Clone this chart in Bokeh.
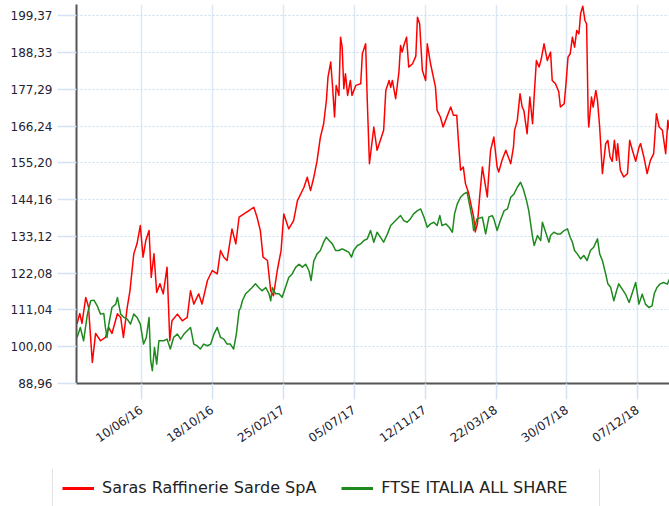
import pandas as pd
from bokeh.plotting import figure
from bokeh.layouts import column
from bokeh.models import (Range1d, FixedTicker, DatetimeTickFormatter, CustomJSTickFormatter,
                          Legend, LegendItem)
from bokeh.core.properties import value
from bokeh.embed import file_html
from bokeh.resources import INLINE

# ---------------- data ----------------
start_date = "2016-02-12"
end_date = "2019-02-03"

# days since start_date, and normalised value (base 100)
red_day = [1, 6, 10, 17, 22, 29, 35, 44, 53, 59, 65, 75, 81, 86, 93, 98, 105, 111, 117, 122,
           127, 133, 137, 142, 147, 153, 159, 166, 171, 175, 185, 194, 203, 209, 215, 224, 230,
           240, 249, 258, 264, 270, 276, 285, 292, 298, 307, 316, 325, 331, 337, 342, 350, 356,
           361, 368, 375, 380, 389, 398, 405, 417, 423, 429, 435, 441, 447, 453, 458, 461, 466,
           469, 473, 476, 481, 484, 487, 490, 493, 497, 502, 505, 512, 521, 524, 530, 533, 537,
           545, 551, 557, 563, 567, 573, 576, 579, 585, 591, 594, 597, 600, 605, 609, 616, 622,
           625, 629, 634, 640, 643, 649, 658, 661, 667, 672, 680, 686, 691, 697, 700, 704, 709,
           713, 719, 724, 728, 731, 735, 739, 744, 748, 753, 755, 759, 765, 771, 774, 780, 787,
           796, 801, 803, 808, 813, 817, 820, 826, 831, 836, 839, 843, 848, 852, 857, 860, 863,
           869, 872, 878, 884, 887, 894, 897, 901, 905, 909, 913, 917, 921, 924, 928, 932, 935,
           938, 939, 944, 947, 952, 955, 959, 964, 970, 974, 978, 982, 986, 990, 992, 997, 1003,
           1010, 1014, 1019, 1025, 1031, 1034, 1040, 1046, 1052, 1058, 1063, 1068, 1074, 1080,
           1084, 1087]
red_val = [106.9, 110, 107, 114.8, 112, 95.3, 104, 101.8, 102.8, 105.8, 104, 109.9, 108.8, 102.8,
           111.8, 116.8, 127.9, 131, 136.4, 126.9, 131.9, 134.9, 120.8, 127.9, 116.3, 118.9, 115.9,
           123.9, 101.8, 107.8, 109.8, 107.8, 108.8, 116.8, 112.8, 115.9, 112.8, 119.9, 122.9,
           121.9, 128.9, 126.9, 125.9, 135.4, 130.9, 138.9, 139.9, 140.9, 141.9, 138.9, 134.9,
           126.9, 125.9, 116.8, 115.3, 122.9, 128.9, 139.9, 135.4, 137.9, 143.9, 147.9, 150.9,
           146.9, 150.9, 155.9, 162.9, 166.9, 173.9, 181, 185.5, 179, 169, 178.5, 175.5, 193, 190,
           177.5, 182, 175.5, 180, 175.5, 178.5, 179, 188, 191, 173.9, 155, 166, 159, 162, 165,
           177, 180, 177.9, 180, 174.5, 182.5, 190.5, 188.5, 190.5, 193, 184, 185, 187.3, 199,
           197, 183, 180, 191, 185, 178, 171, 169, 166, 169.5, 172, 169.5, 169.5, 162, 153, 154,
           149, 146, 142, 139, 134.5, 137, 145, 154, 150, 145, 150, 159, 163, 154, 152.5, 156,
           159, 155, 160, 165, 168, 176, 172, 171, 164, 175, 167, 175.5, 186, 184, 186.5, 191,
           188.5, 186, 188.5, 180, 179, 176.6, 172, 173, 178.5, 187, 188, 193, 190, 195, 194,
           200, 202.3, 198, 197, 169, 166, 175, 172, 177, 174, 166, 152, 161, 162, 157, 155.7,
           162, 156, 161, 153, 151, 152, 162, 159, 155.7, 159.9, 161, 157, 152, 156, 158, 170,
           166, 165, 158, 168, 165]

green_day = [1, 7, 13, 20, 26, 32, 38, 44, 50, 53, 56, 59, 65, 72, 75, 81, 87, 93, 99, 105, 111,
             117, 123, 128, 133, 136, 139, 143, 147, 151, 160, 166, 172, 178, 185, 191, 197, 203,
             209, 215, 221, 227, 233, 240, 246, 252, 258, 264, 270, 276, 282, 288, 293, 298, 301,
             304, 310, 316, 322, 328, 334, 340, 347, 353, 356, 359, 365, 371, 377, 383, 389, 395,
             402, 408, 414, 420, 426, 430, 435, 441, 447, 453, 458, 463, 469, 475, 481, 487, 493,
             499, 504, 508, 515, 521, 527, 533, 539, 545, 551, 557, 563, 570, 576, 585, 594, 600,
             606, 612, 618, 625, 631, 637, 643, 649, 655, 661, 666, 670, 677, 683, 689, 693, 698,
             704, 710, 716, 719, 725, 728, 734, 744, 750, 756, 762, 765, 771, 777, 784, 790, 796,
             802, 808, 814, 819, 825, 829, 836, 839, 845, 851, 854, 860, 866, 869, 875, 881, 887,
             894, 900, 905, 909, 913, 918, 924, 930, 936, 942, 948, 955, 959, 964, 970, 974, 979,
             985, 990, 994, 1000, 1006, 1013, 1019, 1025, 1031, 1037, 1043, 1049, 1055, 1059,
             1064, 1070, 1076, 1083, 1087]
green_val = [102.8, 105.8, 101.8, 109.8, 113.8, 114, 112.3, 109.8, 110, 105.8, 102.8, 106.5, 111.8,
             112.8, 114.8, 109.8, 108.8, 108.3, 106.8, 109.8, 108.8, 106.8, 100.8, 102.8, 108.8,
             95.8, 92.8, 99.8, 94.8, 101.8, 101.8, 102.3, 99.3, 102.8, 103.8, 102.3, 103.8, 104.8,
             105.8, 100.8, 100.3, 99.3, 100.8, 100.3, 100.8, 103.8, 105.8, 102.8, 102.3, 100.8,
             100.8, 99.3, 103.8, 110.8, 111.8, 113.8, 115.9, 116.8, 117.8, 118.9, 117.8, 116.8,
             117.8, 115.9, 113.8, 117.8, 115.9, 115.9, 114.9, 117.8, 120.8, 121.8, 123.9, 124.8,
             123.9, 124.8, 122.9, 119.9, 125.8, 127.9, 128.9, 131.4, 132.9, 131.9, 130.9, 128.9,
             128.9, 129.4, 128.9, 128.4, 126.9, 128.9, 130.4, 130.9, 131.9, 132.4, 134.9, 131.4,
             134.4, 132.9, 131.4, 133.9, 136.4, 137.9, 139.4, 137.9, 137.4, 138.4, 139.9, 140.9,
             141.4, 138.9, 135.9, 136.9, 137.4, 136.4, 139.4, 136.4, 136.9, 135.9, 134.4, 139.9,
             142.9, 144.9, 145.9, 146.4, 143.9, 138.9, 134.9, 138.4, 138.9, 133.9, 139, 139.4,
             138.4, 134.9, 137.9, 140.9, 141.4, 144.9, 145.9, 147.9, 149.4, 147.4, 143.9, 140.9,
             132.9, 130.4, 133.4, 131.9, 137.4, 134.4, 131.4, 133.4, 134.4, 133.9, 133.9, 134.9,
             135.4, 132.9, 131.4, 128.9, 127.9, 126.4, 127.4, 125.9, 128.9, 129.9, 132.4, 127.9,
             125.9, 121.9, 118.9, 117.9, 113.8, 116.8, 118.9, 117.4, 115.9, 113.3, 116.3, 119.3,
             112.8, 115.8, 112.8, 111.8, 112.3, 115.9, 117.8, 118.9, 119.3, 118.8, 120.3]

x_tick_dates = ["2016-06-10", "2016-10-18", "2017-02-25", "2017-07-05",
                "2017-11-12", "2018-03-22", "2018-07-30", "2018-12-07"]
y_ticks = [88.96, 100.00, 111.04, 122.08, 133.12, 144.16, 155.20, 166.24, 177.29, 188.33, 199.37]
y_min, y_max = 88.96, 202.8

series_names = ["Saras Raffinerie Sarde SpA", "FTSE ITALIA ALL SHARE"]
series_colors = ["#ff0000", "#1e8a1e"]

# ---------------- main chart ----------------
t0 = pd.Timestamp(start_date)
red_x = t0 + pd.to_timedelta(red_day, unit="D")
green_x = t0 + pd.to_timedelta(green_day, unit="D")

p = figure(width=669, height=469, x_axis_type="datetime",
           x_range=Range1d(pd.Timestamp(start_date), pd.Timestamp(end_date)),
           y_range=Range1d(y_min, y_max),
           output_backend="svg", toolbar_location=None,
           min_border_left=76, min_border_right=0, min_border_top=4, min_border_bottom=86)
p.frame_align = False
p.outline_line_color = None
p.background_fill_color = "white"
p.border_fill_color = "white"

p.line(red_x, red_val, line_color=series_colors[0], line_width=1.5, line_join="round")
p.line(green_x, green_val, line_color=series_colors[1], line_width=1.5, line_join="round")

# grids
p.xgrid.grid_line_color = "#dde8f6"
p.xgrid.grid_line_width = 1.5
p.ygrid.grid_line_color = "#c9dcf2"
p.ygrid.grid_line_width = 1
p.ygrid.grid_line_dash = "2 2"

# axes
tick_ms = [pd.Timestamp(d).value // 10**6 for d in x_tick_dates]
p.xaxis.ticker = FixedTicker(ticks=tick_ms)
fmt = "%d/%m/%y"
p.xaxis.formatter = DatetimeTickFormatter(days=fmt, months=fmt, years=fmt, hours=fmt,
                                          hourmin=fmt, minutes=fmt, seconds=fmt)
p.xaxis.major_label_orientation = 0.61
p.yaxis.ticker = FixedTicker(ticks=y_ticks)
p.yaxis.formatter = CustomJSTickFormatter(code="return tick.toFixed(2).replace('.', ',');")

for ax in (p.xaxis, p.yaxis):
    ax.axis_line_color = "#555555"
    ax.axis_line_width = 2
    ax.major_tick_line_color = "#d3e2f4"
    ax.major_tick_line_width = 1.5
    ax.major_tick_in = 0
    ax.minor_tick_line_color = None
    ax.major_label_text_font = "DejaVu Sans"
    ax.major_label_text_font_size = "12px"
    ax.major_label_text_color = "#222233"

p.xaxis.major_tick_out = 16
p.xaxis.major_label_standoff = 9
p.yaxis.major_tick_out = 19
p.yaxis.major_label_standoff = 5

# ---------------- legend strip under the chart ----------------
# the strip holds the same two series, kept out of its (empty) view, only to key the legend
lg = figure(width=669, height=37, x_range=Range1d(0, 1), y_range=Range1d(0, 1),
            output_backend="svg", toolbar_location=None,
            x_axis_location=None, y_axis_location=None,
            min_border_left=0, min_border_right=0, min_border_top=0, min_border_bottom=0)
lg.frame_align = False
lg.outline_line_color = None
lg.grid.visible = False
lg.border_fill_color = "white"
lk_red = lg.line(red_day, red_val, line_color=series_colors[0], line_width=3)
lk_green = lg.line(green_day, green_val, line_color=series_colors[1], line_width=3)

legend = Legend(items=[LegendItem(label=value(series_names[0]), renderers=[lk_red]),
                       LegendItem(label=value(series_names[1]), renderers=[lk_green])],
                orientation="horizontal", location=(52, -1), margin=0,
                padding=9, spacing=25, glyph_width=32, glyph_height=14,
                label_standoff=8, label_width=209, label_height=14,
                label_text_font="DejaVu Sans", label_text_font_size="16px",
                label_text_color="#222222",
                border_line_color="#c8c8c8", border_line_width=1.5,
                background_fill_color="white", background_fill_alpha=1.0)
lg.add_layout(legend)

layout = column(p, lg, spacing=0)
open("out.html", "w").write(file_html(layout, INLINE))
